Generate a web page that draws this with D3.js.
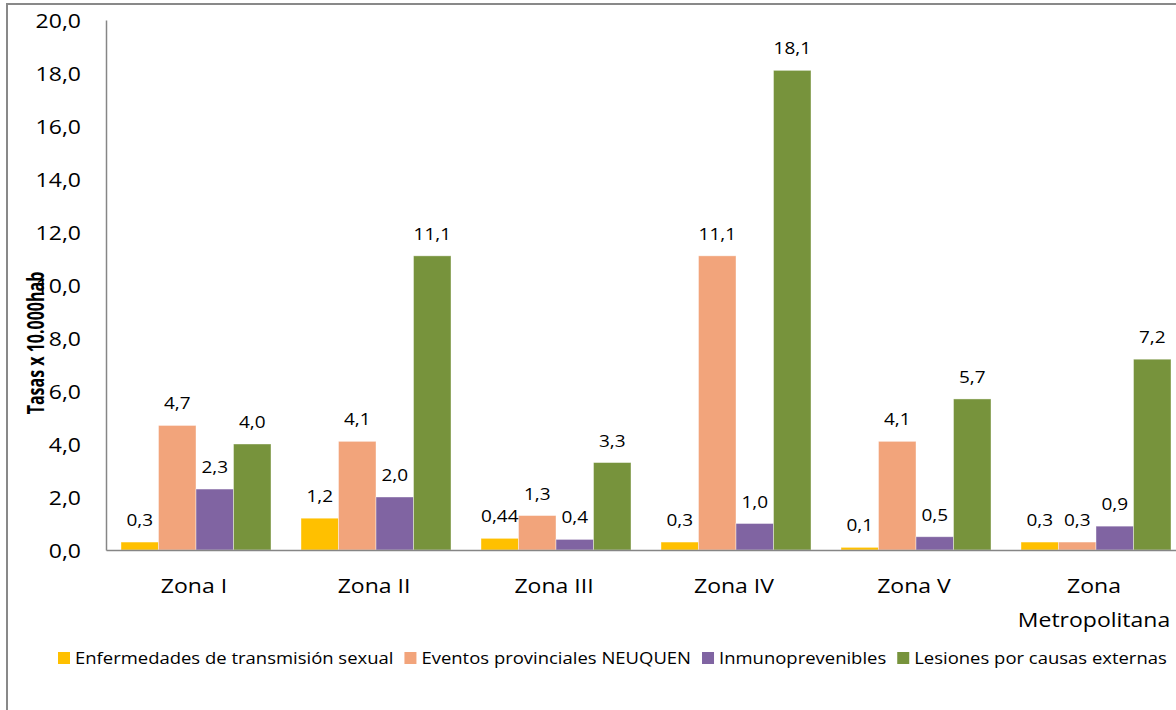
<!DOCTYPE html>
<html>
<head>
  <meta charset="utf-8">
  <script src="https://d3js.org/d3.v7.min.js"></script>
  <style>
    body { margin: 0; background: #fff; }
    text { font-family: "Open Sans", sans-serif; fill: #000; }
  </style>
</head>
<body>
<script>
  // chart data
  var zonas = ["Zona I", "Zona II", "Zona III", "Zona IV", "Zona V", "Zona Metropolitana"];
  var series = ["Enfermedades de transmisión sexual", "Eventos provinciales NEUQUEN",
                "Inmunoprevenibles", "Lesiones por causas externas"];
  var ets       = [0.3, 1.2, 0.44, 0.3, 0.1, 0.3];
  var eventos   = [4.7, 4.1, 1.3, 11.1, 4.1, 0.3];
  var inmuno    = [2.3, 2.0, 0.4, 1.0, 0.5, 0.9];
  var lesiones  = [4.0, 11.1, 3.3, 18.1, 5.7, 7.2];
  var yTicks = [0, 2, 4, 6, 8, 10, 12, 14, 16, 18, 20];
  var colors = ["#FFC000", "#F2A47B", "#8064A2", "#77933C"];

  var values = [ets, eventos, inmuno, lesiones];
  var SX = 1.15; // text in the source is a bit stretched horizontally

  var width = 1176, height = 710;
  var svg = d3.select("body").append("svg")
      .attr("width", width)
      .attr("height", height);

  // outer chart border (runs off the right / bottom edge)
  svg.append("rect")
      .attr("x", 7).attr("y", 4)
      .attr("width", 1300).attr("height", 800)
      .style("fill", "none")
      .style("stroke", "#898989")
      .style("stroke-width", 2);

  var x = d3.scaleBand().domain(zonas).range([106, 106 + 180 * zonas.length]);
  var xs = d3.scaleBand().domain(series).range([15, 165]);
  var y = d3.scaleLinear().domain([0, 20]).range([550, 20]);

  function fmt(v) {
    return (Math.round(v * 10) === v * 10 ? v.toFixed(1) : v.toFixed(2)).replace(".", ",");
  }

  // bars
  var groups = svg.selectAll("g.zona")
    .data(zonas)
    .enter().append("g")
      .attr("class", "zona")
      .attr("transform", function (d) { return "translate(" + x(d) + ",0)"; });

  groups.selectAll("rect")
    .data(function (d, i) {
      return series.map(function (s, j) { return {s: s, j: j, v: values[j][i]}; });
    })
    .enter().append("rect")
      .attr("x", function (d) { return xs(d.s); })
      .attr("y", function (d) { return y(d.v); })
      .attr("width", xs.bandwidth())
      .attr("height", function (d) { return y(0) - y(d.v); })
      .style("fill", function (d) { return colors[d.j]; })
      .style("stroke", "#ffffff")
      .style("stroke-opacity", 0.5)
      .style("stroke-width", 0.8);

  // data labels
  groups.selectAll("g.lbl")
    .data(function (d, i) {
      return series.map(function (s, j) { return {s: s, j: j, v: values[j][i]}; });
    })
    .enter().append("g")
      .attr("class", "lbl")
      .attr("transform", function (d) {
        return "translate(" + (xs(d.s) + xs.bandwidth() / 2) + "," + (y(d.v) - 16) + ") scale(" + SX + ",1)";
      })
    .append("text")
      .attr("text-anchor", "middle")
      .style("font-size", "16.5px")
      .text(function (d) { return fmt(d.v); });

  // y axis
  var yAxis = svg.append("g")
      .attr("transform", "translate(106,0)")
      .call(d3.axisLeft(y).tickValues(yTicks).tickSize(0).tickSizeOuter(0)
              .tickFormat(function (d) { return d.toFixed(1).replace(".", ","); }));
  yAxis.select(".domain").style("stroke", "#868686").style("stroke-width", 1.5);
  yAxis.selectAll(".tick text")
      .attr("x", null)
      .attr("dy", "0.36em")
      .attr("transform", "translate(-25,0) scale(" + SX + ",1)")
      .style("font-size", "20px")
      .style("font-family", "'Open Sans', sans-serif")
      .style("fill", "#000");

  // x axis
  var xAxis = svg.append("g")
      .attr("transform", "translate(0,550)")
      .call(d3.axisBottom(x).tickSize(0).tickSizeOuter(0));
  xAxis.select(".domain").style("stroke", "#868686").style("stroke-width", 1.5);
  xAxis.selectAll(".tick text").each(function (d) {
    var t = d3.select(this);
    var lines = d.length > 12 ? [d.slice(0, d.indexOf(" ")), d.slice(d.indexOf(" ") + 1)] : [d];
    t.text(null)
      .attr("y", null).attr("dy", null)
      .attr("transform", "translate(-2,43) scale(" + SX + ",1)")
      .style("font-size", "20px")
      .style("font-family", "'Open Sans', sans-serif")
      .style("fill", "#000");
    lines.forEach(function (l, k) {
      t.append("tspan").attr("x", 0).attr("y", k * 34).text(l);
    });
  });

  // y axis title
  svg.append("g")
      .attr("transform", "translate(44,343) scale(1.4,1) rotate(-90)")
    .append("text")
      .attr("text-anchor", "middle")
      .style("font-size", "16px")
      .style("font-weight", "bold")
      .text("Tasas x 10.000hab");

  // legend
  var lx = 58, ls = 1.12;
  series.forEach(function (s, j) {
    svg.append("rect")
        .attr("x", lx).attr("y", 652)
        .attr("width", 12).attr("height", 12)
        .style("fill", colors[j]);
    var g = svg.append("g")
        .attr("transform", "translate(" + (lx + 17) + ",664) scale(" + ls + ",1)");
    var t = g.append("text")
        .style("font-size", "16.5px")
        .text(s);
    lx += 17 + t.node().getComputedTextLength() * ls + 11;
  });
</script>
</body>
</html>
